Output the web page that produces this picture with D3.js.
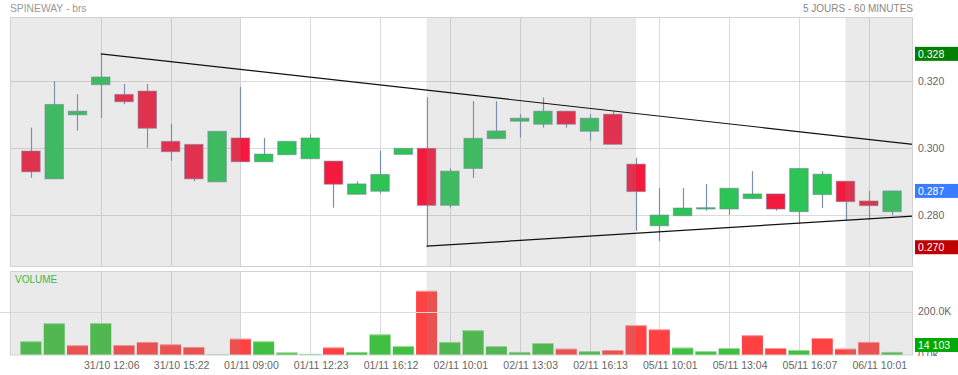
<!DOCTYPE html>
<html>
<head>
<meta charset="utf-8">
<script src="https://cdn.jsdelivr.net/npm/d3@7"></script>
<style>
  html, body { margin: 0; padding: 0; background: #fff; }
  svg { display: block; font-family: "Liberation Sans", Arial, sans-serif; }
</style>
</head>
<body>
<svg id="chart" width="958" height="375"></svg>
<script>
// ---------- DATA ----------
const title = "SPINEWAY - brs";
const periodLabel = "5 JOURS - 60 MINUTES";
const opens  = [0.2991,0.2908,0.3099,0.3189,0.3160,0.3170,0.3020,0.3011,0.2899,0.3030,
                0.2959,0.2980,0.2968,0.2961,0.2862,0.2871,0.2981,0.2999,0.2829,0.2939,
                0.3028,0.3080,0.3071,0.3110,0.3050,0.3101,0.2952,0.2768,0.2798,0.2818,
                0.2818,0.2849,0.2863,0.2810,0.2861,0.2901,0.2842,0.2810];
const highs  = [0.3061,0.3200,0.3161,0.3281,0.3191,0.3191,0.3072,0.3011,0.3050,0.3182,
                0.3030,0.3020,0.3041,0.2961,0.2901,0.2992,0.2999,0.3151,0.2939,0.3140,
                0.3140,0.3101,0.3151,0.3110,0.3101,0.3110,0.2971,0.2881,0.2881,0.2893,
                0.2880,0.2931,0.2863,0.2939,0.2931,0.2901,0.2872,0.2872];
const lows   = [0.2911,0.2908,0.3052,0.3090,0.3131,0.3001,0.2962,0.2901,0.2899,0.2959,
                0.2959,0.2980,0.2968,0.2822,0.2862,0.2864,0.2981,0.2704,0.2822,0.2911,
                0.3028,0.3031,0.3061,0.3061,0.3022,0.3011,0.2753,0.2723,0.2798,0.2813,
                0.2800,0.2849,0.2813,0.2773,0.2821,0.2783,0.2785,0.2800];
const closes = [0.2929,0.3130,0.3110,0.3212,0.3138,0.3059,0.2989,0.2908,0.3050,0.2959,
                0.2982,0.3020,0.3030,0.2892,0.2893,0.2921,0.2999,0.2829,0.2931,0.3029,
                0.3051,0.3089,0.3110,0.3071,0.3089,0.3011,0.2870,0.2800,0.2821,0.2822,
                0.2880,0.2863,0.2818,0.2939,0.2922,0.2840,0.2828,0.2872];
const priorClose = 0.2910;
const volumes = [63000,146000,45000,147000,46000,60000,49000,37000,3000,75000,
                 63000,12000,5000,35000,14000,95000,41000,295000,60000,114000,
                 41000,14000,55000,29000,18000,23000,137000,118000,34000,18000,
                 32000,91000,32000,23000,78000,29000,60000,14103];
const xTickIndex  = [3,6,9,12,15,18,21,24,27,30,33,36];
const xTickLabels = ["31/10 12:06","31/10 15:22","01/11 09:00","01/11 12:23","01/11 16:12",
                     "02/11 10:01","02/11 13:03","02/11 16:13","05/11 10:01","05/11 13:04",
                     "05/11 16:07","06/11 10:01"];
const priceTicks  = [0.280, 0.300, 0.320];
const volumeTicks = [0, 200000];
// shaded sessions (index ranges, null = chart edge)
const shadedSessions = [[null, 9], [17, 26], [35, null]];
// trendlines [index, price] -> [index, price] (null index = right edge)
const trendUpper = [[3, 0.3281], [null, 0.3011]];
const trendLower = [[17, 0.2707], [null, 0.2797]];

// ---------- LAYOUT ----------
const L = 10, R = 913;
const mainTop = 17, mainBottom = 267;
const volTop = 271, volBottom = 355;
const font = 10.5;

const svg = d3.select("#chart");
const x = d3.scaleLinear().domain([-0.9, 37.9]).range([L, R]);
const y = d3.scaleLinear().domain([0.2645, 0.3391]).range([mainBottom, mainTop]);
const yv = d3.scaleLinear().domain([0, 200000]).range([volBottom, 311.5]);
const [dx0, dx1] = x.domain();

const green = "#2bc455", red = "#f31a3d";
const vGreen = "#40c040", vRed = "#ff4141";
const gridC = "#dadada";

// clip paths
const defs = svg.append("defs");
defs.append("clipPath").attr("id","clipMain").append("rect")
  .attr("x", L).attr("y", mainTop).attr("width", R - L).attr("height", mainBottom - mainTop);
defs.append("clipPath").attr("id","clipVol").append("rect")
  .attr("x", L).attr("y", volTop).attr("width", R - L).attr("height", volBottom - volTop);
defs.append("clipPath").attr("id","clipAxis").append("rect")
  .attr("x", R).attr("y", 0).attr("width", 958 - R).attr("height", 356);

// titles
svg.append("text").attr("x", 10).attr("y", 12.3).attr("font-size", 10.3)
  .attr("fill", "#999").text(title);
svg.append("text").attr("x", R).attr("y", 12.3).attr("font-size", 10)
  .attr("text-anchor", "end").attr("fill", "#888").text(periodLabel);

// ---------- MAIN PANEL ----------
const gm = svg.append("g").attr("clip-path", "url(#clipMain)");
// grid
gm.selectAll("line.hg").data(priceTicks).join("line")
  .attr("x1", L).attr("x2", R)
  .attr("y1", d => Math.round(y(d)) + 0.5).attr("y2", d => Math.round(y(d)) + 0.5)
  .attr("stroke", gridC);
gm.selectAll("line.vg").data(xTickIndex).join("line")
  .attr("x1", d => Math.round(x(d)) + 0.5).attr("x2", d => Math.round(x(d)) + 0.5)
  .attr("y1", mainTop).attr("y2", mainBottom).attr("stroke", gridC);

const idx = d3.range(opens.length);
const bodyW = 18.5;
// wicks
gm.selectAll("line.wick").data(idx).join("line")
  .attr("x1", i => Math.round(x(i)) + 0.5).attr("x2", i => Math.round(x(i)) + 0.5)
  .attr("y1", i => y(highs[i])).attr("y2", i => y(lows[i]))
  .attr("stroke", "#7a8fb0").attr("stroke-width", 1.2);
// bodies
gm.selectAll("rect.body").data(idx).join("rect")
  .attr("x", i => x(i) - bodyW / 2).attr("width", bodyW)
  .attr("y", i => y(Math.max(opens[i], closes[i])))
  .attr("height", i => Math.max(1, Math.abs(y(opens[i]) - y(closes[i]))))
  .attr("fill", i => closes[i] >= opens[i] ? green : red)
  .attr("stroke", "#6d7f99").attr("stroke-opacity", 0.55).attr("stroke-width", 1);

// shading overlay
function sessX(s) { return [x(s[0] === null ? dx0 : s[0]), x(s[1] === null ? dx1 : s[1])]; }
gm.selectAll("rect.shade").data(shadedSessions).join("rect")
  .attr("x", s => sessX(s)[0]).attr("width", s => sessX(s)[1] - sessX(s)[0])
  .attr("y", mainTop).attr("height", mainBottom - mainTop)
  .attr("fill", "rgb(150,150,150)").attr("fill-opacity", 0.2);

// trendlines
[trendUpper, trendLower].forEach(t => {
  gm.append("line")
    .attr("x1", x(t[0][0] === null ? dx1 : t[0][0])).attr("y1", y(t[0][1]))
    .attr("x2", x(t[1][0] === null ? dx1 : t[1][0])).attr("y2", y(t[1][1]))
    .attr("stroke", "#111").attr("stroke-width", 1.2);
});

svg.append("rect").attr("x", L + 0.5).attr("y", mainTop + 0.5)
  .attr("width", R - L - 1).attr("height", mainBottom - mainTop - 1)
  .attr("fill", "none").attr("stroke", "#d2d2d2");

// price axis labels
svg.selectAll("text.py").data(priceTicks).join("text")
  .attr("x", 918).attr("y", d => y(d) + 3.5).attr("font-size", font)
  .attr("fill", "#666").text(d => d.toFixed(3));

// marker boxes: high, last, low
const markers = [
  { v: d3.max(highs), c: "#007f00" },
  { v: closes[closes.length - 1], c: "#3a7cff" },
  { v: d3.min(lows), c: "#c00000" }
];
markers.forEach(m => {
  const cy = y(m.v);
  svg.append("rect").attr("x", 915).attr("y", cy - 7).attr("width", 43).attr("height", 14)
    .attr("fill", m.c);
  svg.append("text").attr("x", 918).attr("y", cy + 3.8).attr("font-size", font)
    .attr("fill", "#fff").text(m.v.toFixed(3));
});

// ---------- VOLUME PANEL ----------
const gv = svg.append("g").attr("clip-path", "url(#clipVol)");
gv.selectAll("line.vg").data(xTickIndex).join("line")
  .attr("x1", d => Math.round(x(d)) + 0.5).attr("x2", d => Math.round(x(d)) + 0.5)
  .attr("y1", volTop).attr("y2", volBottom).attr("stroke", gridC);
// 200K gridline extends to the left edge
svg.append("line").attr("x1", 0).attr("x2", R)
  .attr("y1", Math.round(yv(volumeTicks[1])) + 0.5).attr("y2", Math.round(yv(volumeTicks[1])) + 0.5)
  .attr("stroke", gridC);

const volUp = idx.map(i => closes[i] >= (i === 0 ? priorClose : closes[i - 1]));
const barW = 21;
gv.selectAll("rect.vol").data(idx).join("rect")
  .attr("x", i => x(i) - barW / 2).attr("width", barW)
  .attr("y", i => yv(volumes[i])).attr("height", i => yv(0) - yv(volumes[i]))
  .attr("fill", i => volUp[i] ? vGreen : vRed);
gv.selectAll("line.voltop").data(idx).join("line")
  .attr("x1", i => x(i) - barW / 2).attr("x2", i => x(i) + barW / 2)
  .attr("y1", i => yv(volumes[i]) + 0.5).attr("y2", i => yv(volumes[i]) + 0.5)
  .attr("stroke", "#fff").attr("stroke-opacity", 0.45);

gv.selectAll("rect.shade").data(shadedSessions).join("rect")
  .attr("x", s => sessX(s)[0]).attr("width", s => sessX(s)[1] - sessX(s)[0])
  .attr("y", volTop).attr("height", volBottom - volTop)
  .attr("fill", "rgb(150,150,150)").attr("fill-opacity", 0.2);

svg.append("rect").attr("x", L + 0.5).attr("y", volTop + 0.5)
  .attr("width", R - L - 1).attr("height", volBottom - volTop - 0.5)
  .attr("fill", "none").attr("stroke", "#d2d2d2");

// volume axis labels
const fmtK = v => (v / 1000).toFixed(1) + "K";
svg.append("g").attr("clip-path", "url(#clipAxis)")
  .selectAll("text").data(volumeTicks).join("text")
  .attr("x", 918).attr("y", d => yv(d) + 3.5).attr("font-size", font)
  .attr("fill", "#666").text(d => fmtK(d));

// last volume box
const lastVol = volumes[volumes.length - 1];
const vbY = Math.min(yv(lastVol), volBottom - 10);
svg.append("rect").attr("x", 915).attr("y", vbY - 7).attr("width", 43).attr("height", 14)
  .attr("fill", "#00a800");
svg.append("text").attr("x", 918).attr("y", vbY + 3.8).attr("font-size", font)
  .attr("fill", "#fff").text(d3.format(",")(lastVol).replace(/,/g, " "));

// x axis labels
svg.selectAll("text.xl").data(xTickIndex).join("text")
  .attr("x", (d) => x(d) + 11).attr("y", 369).attr("font-size", font)
  .attr("text-anchor", "middle").attr("fill", "#666")
  .text((d, i) => xTickLabels[i]);

// volume title
svg.append("text").attr("x", 15).attr("y", 283.3).attr("font-size", 10)
  .attr("fill", "#3cb93c").text("VOLUME");
</script>
</body>
</html>
